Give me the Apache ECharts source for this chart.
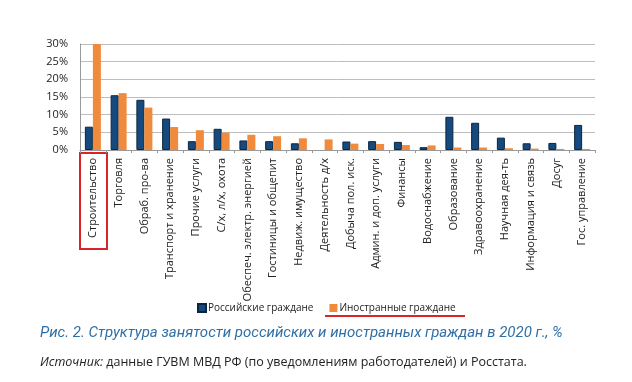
<!DOCTYPE html>
<html><head><meta charset="utf-8">
<script src="https://cdn.jsdelivr.net/npm/echarts@6/dist/echarts.min.js"></script>
<style>html,body{margin:0;padding:0;background:#fff}#c{width:632px;height:382px}</style>
</head><body><div id="c"></div>
<script>
const categories = ["Строительство","Торговля","Обраб. про-ва","Транспорт и хранение","Прочие услуги","С/х, л/х, охота","Обеспеч. электр. энергией","Гостиницы и общепит","Недвиж. имущество","Деятельность д/х","Добыча пол. иск.","Админ. и доп. услуги","Финансы","Водоснабжение","Образование","Здравоохранение","Научная дея-ть","Информация и связь","Досуг","Гос. управление"];
const russian = [6.6,15.5,14.2,8.9,2.5,6.0,2.7,2.5,1.9,null,2.4,2.5,2.3,0.8,9.4,7.7,3.5,1.9,2.0,7.1];
const foreign = [30,16.1,12.0,6.5,5.6,4.9,4.3,3.9,3.3,3.0,1.8,1.7,1.4,1.3,0.7,0.7,0.5,0.4,0.3,0.3];
const yTicks = [0,5,10,15,20,25,30];
const seriesNames = ["Российские граждане","Иностранные граждане"];

const chart = echarts.init(document.getElementById('c'));
chart.setOption({
  animation:false,
  textStyle:{fontFamily:"Open Sans"},
  grid:{left:80,right:37,top:44,bottom:232},
  legend:{
    data:seriesNames, top:298, left:192, itemWidth:8, itemHeight:8, itemGap:16,
    icon:'rect',
    textStyle:{fontSize:10,color:'#222',fontFamily:'Open Sans',padding:[0,0,0,-3]}
  },
  xAxis:{
    type:'category', data:categories,
    axisLine:{lineStyle:{color:'#999'}},
    axisTick:{show:true,length:3,lineStyle:{color:'#999'}},
    axisLabel:{rotate:90,fontSize:11,color:'#222',margin:8,interval:0}
  },
  yAxis:{
    type:'value', min:yTicks[0], max:yTicks[yTicks.length-1], interval:5,
    axisLine:{show:true,lineStyle:{color:'#999'}},
    axisTick:{show:false},
    axisLabel:{formatter:'{value}%',fontSize:11,color:'#222',margin:12},
    splitLine:{lineStyle:{color:'#bdbdbd',width:1}}
  },
  series:[
    {name:seriesNames[0],type:'bar',data:russian,barWidth:8,barGap:'0%',
     itemStyle:{color:'#164a7e',borderColor:'#0b2540',borderWidth:1}},
    {name:seriesNames[1],type:'bar',data:foreign,barWidth:8,
     itemStyle:{color:'#f08a3c'}}
  ],
  graphic:[
    {type:'rect',shape:{x:80,y:153,width:27,height:96},style:{fill:'none',stroke:'#d9252a',lineWidth:2}},
    {type:'line',shape:{x1:325,y1:316,x2:465,y2:316},style:{stroke:'#d9252a',lineWidth:2}},
    {type:'text',left:40,top:326,style:{text:'Рис. 2. Структура занятости российских и иностранных граждан в 2020 г., %',
      fill:'#2f6fa8',font:'italic 15px Roboto'}},
    {type:'text',left:40,top:356,style:{
      text:'{i|Источник:} данные ГУВМ МВД РФ (по уведомлениям работодателей) и Росстата.',
      fill:'#222',font:'12.5px "Open Sans"',
      rich:{i:{fontStyle:'italic',fontSize:12.5,fontFamily:'Open Sans',fill:'#222'}}}}
  ]
});
</script></body></html>
